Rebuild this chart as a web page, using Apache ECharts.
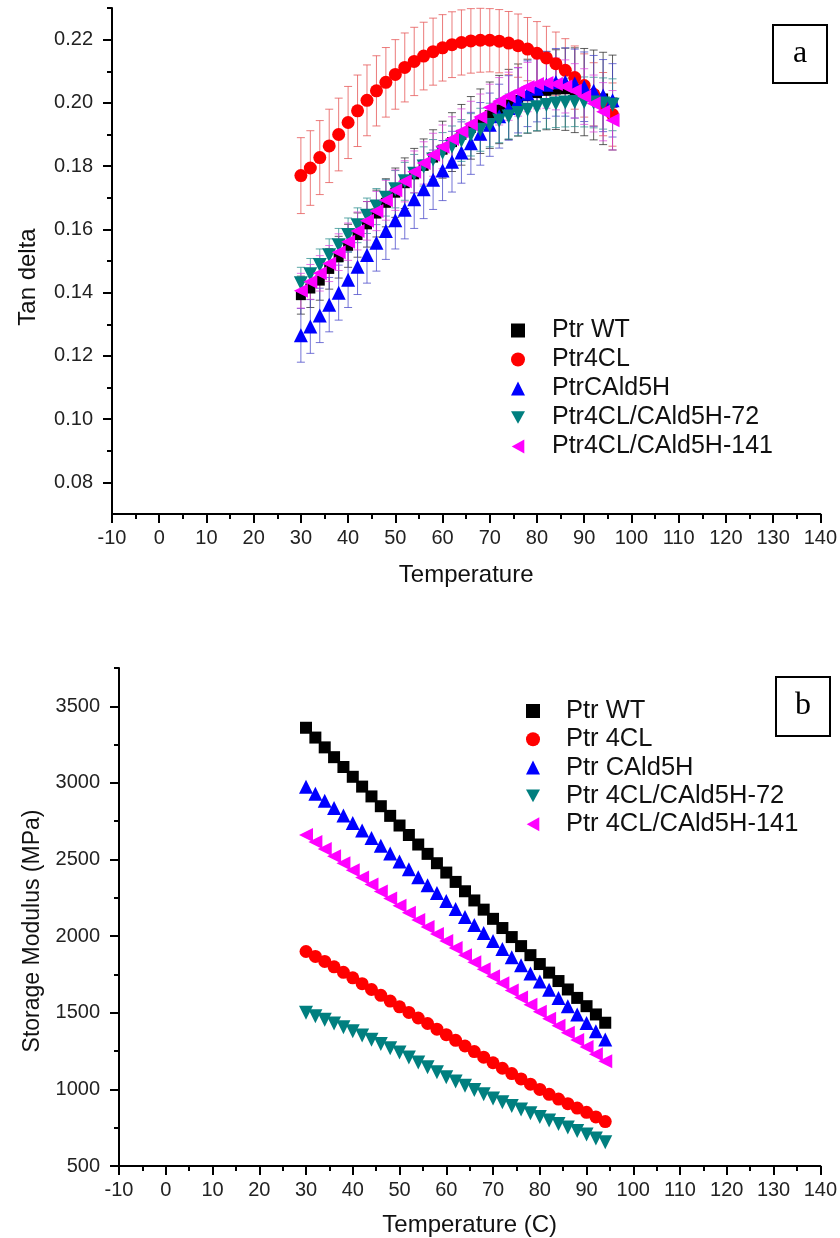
<!DOCTYPE html>
<html>
<head>
<meta charset="utf-8">
<script src="https://cdn.jsdelivr.net/npm/echarts@6/dist/echarts.min.js"></script>
<style>html,body{margin:0;padding:0;background:#fff}#c{width:840px;height:1238px}</style>
</head>
<body>
<div id="c"></div>
<script>
// ---------- Panel a: Tan delta ----------
const tempA = [30,32,34,36,38,40,42,44,46,48,50,52,54,56,58,60,62,64,66,68,70,72,74,76,78,80,82,84,86,88,90,92,94,96];
const tanWT   = [0.1392,0.1413,0.1438,0.1475,0.1512,0.1548,0.1582,0.1616,0.1650,0.1684,0.1716,0.1746,0.1774,0.1801,0.1827,0.1852,0.1876,0.1899,0.1921,0.1942,0.1961,0.1979,0.1995,0.2009,0.2021,0.2031,0.2038,0.2042,0.2043,0.2040,0.2034,0.2025,0.2014,0.2001];
const tan4CL  = [0.1770,0.1794,0.1827,0.1864,0.1900,0.1938,0.1975,0.2008,0.2038,0.2065,0.2090,0.2112,0.2131,0.2148,0.2162,0.2174,0.2184,0.2191,0.2196,0.2198,0.2198,0.2195,0.2189,0.2181,0.2170,0.2157,0.2142,0.2124,0.2103,0.2080,0.2055,0.2027,0.1996,0.1963];
const tanC5H  = [0.1265,0.1293,0.1328,0.1362,0.1400,0.1441,0.1482,0.1519,0.1558,0.1595,0.1629,0.1662,0.1695,0.1727,0.1757,0.1786,0.1814,0.1843,0.1872,0.1902,0.1931,0.1958,0.1984,0.2008,0.2029,0.2045,0.2057,0.2065,0.2066,0.2061,0.2051,0.2038,0.2023,0.2008];
const tan72   = [0.1430,0.1458,0.1487,0.1518,0.1550,0.1582,0.1613,0.1643,0.1672,0.1700,0.1727,0.1752,0.1776,0.1799,0.1821,0.1842,0.1862,0.1881,0.1899,0.1915,0.1930,0.1944,0.1957,0.1968,0.1978,0.1986,0.1993,0.1998,0.2001,0.2003,0.2003,0.2001,0.1998,0.1994];
const tan141  = [0.1406,0.1434,0.1461,0.1492,0.1528,0.1561,0.1595,0.1627,0.1658,0.1692,0.1724,0.1752,0.1782,0.1810,0.1836,0.1861,0.1886,0.1910,0.1933,0.1955,0.1985,0.2005,0.2021,0.2035,0.2050,0.2060,0.2063,0.2060,0.2052,0.2038,0.2020,0.1998,0.1972,0.1945];
// error (± half-width) for each point
const errWT   = [0.0060,0.0060,0.0062,0.0064,0.0066,0.0068,0.0070,0.0072,0.0074,0.0076,0.0078,0.0080,0.0082,0.0085,0.0088,0.0090,0.0093,0.0096,0.0099,0.0102,0.0105,0.0108,0.0111,0.0114,0.0117,0.0120,0.0123,0.0126,0.0130,0.0134,0.0138,0.0142,0.0146,0.0150];
const err4CL  = [0.0120,0.0118,0.0117,0.0116,0.0115,0.0114,0.0113,0.0112,0.0111,0.0110,0.0110,0.0109,0.0108,0.0107,0.0106,0.0105,0.0104,0.0103,0.0102,0.0101,0.0100,0.0100,0.0100,0.0100,0.0100,0.0100,0.0100,0.0100,0.0100,0.0100,0.0100,0.0100,0.0100,0.0100];
const errC5H  = [0.0085,0.0085,0.0086,0.0086,0.0087,0.0088,0.0088,0.0089,0.0090,0.0090,0.0091,0.0092,0.0092,0.0093,0.0094,0.0095,0.0096,0.0097,0.0098,0.0099,0.0100,0.0101,0.0102,0.0103,0.0104,0.0105,0.0106,0.0107,0.0108,0.0109,0.0110,0.0112,0.0114,0.0116];
const err72   = [0.0050,0.0050,0.0051,0.0052,0.0053,0.0054,0.0055,0.0056,0.0057,0.0058,0.0059,0.0060,0.0061,0.0062,0.0063,0.0064,0.0065,0.0066,0.0067,0.0068,0.0069,0.0070,0.0071,0.0072,0.0073,0.0074,0.0075,0.0076,0.0077,0.0078,0.0079,0.0080,0.0081,0.0082];
const err141  = [0.0055,0.0055,0.0056,0.0057,0.0058,0.0059,0.0060,0.0061,0.0062,0.0063,0.0064,0.0065,0.0066,0.0067,0.0068,0.0069,0.0070,0.0071,0.0072,0.0073,0.0074,0.0075,0.0076,0.0077,0.0078,0.0079,0.0080,0.0082,0.0084,0.0086,0.0088,0.0090,0.0092,0.0094];
const namesA = ['Ptr WT','Ptr4CL','PtrCAld5H','Ptr4CL/CAld5H-72','Ptr4CL/CAld5H-141'];
const yTicksA = [0.08,0.10,0.12,0.14,0.16,0.18,0.20,0.22];
const yMinorA = [0.09,0.11,0.13,0.15,0.17,0.19,0.21,0.23];

// ---------- Panel b: Storage modulus ----------
const tempB = [30,32,34,36,38,40,42,44,46,48,50,52,54,56,58,60,62,64,66,68,70,72,74,76,78,80,82,84,86,88,90,92,94];
const smWT  = [3360,3296,3232,3168,3104,3040,2976,2912,2848,2785,2722,2660,2598,2537,2476,2415,2354,2293,2233,2173,2113,2053,1994,1935,1876,1818,1762,1707,1652,1597,1543,1489,1435];
const sm4CL = [1900,1868,1835,1800,1764,1728,1690,1652,1614,1576,1539,1502,1466,1430,1393,1357,1320,1283,1247,1210,1174,1138,1103,1068,1034,1000,968,937,907,878,850,820,790];
const smC5H = [2975,2930,2883,2836,2788,2739,2690,2640,2590,2539,2488,2437,2385,2333,2281,2229,2177,2125,2073,2021,1969,1916,1863,1810,1757,1704,1650,1596,1542,1488,1434,1380,1325];
const sm72  = [1500,1478,1455,1430,1405,1380,1352,1324,1296,1268,1240,1208,1176,1144,1112,1080,1052,1024,996,968,940,916,892,868,844,820,797,774,751,728,705,680,655];
const sm141 = [2660,2614,2568,2522,2476,2430,2383,2337,2291,2245,2199,2153,2106,2060,2014,1968,1922,1876,1830,1784,1738,1692,1646,1600,1553,1507,1461,1415,1369,1323,1277,1230,1183];
const namesB = ['Ptr WT','Ptr 4CL','Ptr CAld5H','Ptr 4CL/CAld5H-72','Ptr 4CL/CAld5H-141'];
const yTicksB = [500,1000,1500,2000,2500,3000,3500];
const yMinorB = [750,1250,1750,2250,2750,3250,3750];

const FONT = '"Liberation Sans", Arial, sans-serif';
const colors = ['#000000','#ff0000','#0000ff','#007f7f','#ff00ff'];
const errColors = ['rgba(40,40,40,0.75)','rgba(230,90,90,0.8)','rgba(70,70,200,0.75)','rgba(40,140,140,0.75)','rgba(220,60,220,0.7)'];
const DOWN = 'path://M0,0 L10,0 L5,9 Z';
const LEFT = 'path://M9,0 L9,10 L0,5 Z';
const symbols = ['rect','circle','triangle',DOWN,LEFT];
const sizesA = [10,13,14,14,14];
const sizesB = [12,13,14,14,14];

const tanSets = [tanWT,tan4CL,tanC5H,tan72,tan141];
const errSets = [errWT,err4CL,errC5H,err72,err141];
const smSets = [smWT,sm4CL,smC5H,sm72,sm141];

function axisStyle(){ return {onZero:false, lineStyle:{color:'#000',width:2}}; }

const series = [];
// error bars (behind)
tanSets.forEach((vals,k)=>{
  series.push({
    type:'custom', name:'err'+k, xAxisIndex:0, yAxisIndex:0, silent:true, z:1,
    data: tempA.map((t,i)=>[t, vals[i]-errSets[k][i], vals[i]+errSets[k][i]]),
    encode:{x:0,y:[1,2]},
    renderItem:function(params, api){
      const x = api.value(0);
      const lo = api.coord([x, api.value(1)]);
      const hi = api.coord([x, api.value(2)]);
      const w = 4;
      const st = {stroke:errColors[k], lineWidth:1};
      return {type:'group', children:[
        {type:'line', shape:{x1:lo[0],y1:lo[1],x2:hi[0],y2:hi[1]}, style:st},
        {type:'line', shape:{x1:lo[0]-w,y1:lo[1],x2:lo[0]+w,y2:lo[1]}, style:st},
        {type:'line', shape:{x1:hi[0]-w,y1:hi[1],x2:hi[0]+w,y2:hi[1]}, style:st}
      ]};
    }
  });
});
tanSets.forEach((vals,k)=>{
  series.push({
    type:'scatter', name:namesA[k], xAxisIndex:0, yAxisIndex:0, z:3,
    symbol:symbols[k], symbolSize:sizesA[k],
    itemStyle:{color:colors[k], opacity:1},
    data: tempA.map((t,i)=>[t, vals[i]])
  });
});
smSets.forEach((vals,k)=>{
  series.push({
    type:'scatter', name:namesB[k], xAxisIndex:1, yAxisIndex:2, z:3,
    symbol:symbols[k], symbolSize:sizesB[k],
    itemStyle:{color:colors[k], opacity:1},
    data: tempB.map((t,i)=>[t, vals[i]])
  });
});

const xCommon = {
  type:'value', min:-10, max:140, interval:10,
  axisLine:axisStyle(),
  axisTick:{show:true, length:9, lineStyle:{color:'#000',width:2}},
  minorTick:{show:true, splitNumber:2, length:5, lineStyle:{color:'#000',width:2}},
  splitLine:{show:false}, minorSplitLine:{show:false},
  axisLabel:{color:'#222', fontFamily:FONT, fontSize:20, margin:14},
  nameLocation:'middle',
  nameTextStyle:{color:'#111', fontFamily:FONT, fontSize:24}
};

const option = {
  animation:false,
  backgroundColor:'#fff',
  grid:[
    {left:112, top:8, width:711, height:506},
    {left:119, top:668, width:705, height:498}
  ],
  xAxis:[
    Object.assign({}, xCommon, {gridIndex:0, name:'Temperature', nameGap:49}),
    Object.assign({}, xCommon, {gridIndex:1, name:'Temperature (C)', nameGap:47})
  ],
  yAxis:[
    {type:'value', gridIndex:0, min:0.07, max:0.23, position:'left',
     axisLine:axisStyle(),
     axisTick:{show:true, length:9, lineStyle:{color:'#000',width:2}, customValues:yTicksA},
     axisLabel:{color:'#222', fontFamily:FONT, fontSize:20, margin:19, customValues:yTicksA,
                formatter:v=>Number(v).toFixed(2)},
     splitLine:{show:false},
     name:'Tan delta', nameLocation:'middle', nameGap:72,
     nameTextStyle:{color:'#111', fontFamily:FONT, fontSize:24, padding:[0,32,0,0]}},
    {type:'value', gridIndex:0, min:0.07, max:0.23, position:'left', offset:0,
     axisLine:{show:false, onZero:false}, axisLabel:{show:false}, splitLine:{show:false},
     axisTick:{show:true, length:5, lineStyle:{color:'#000',width:2}, customValues:yMinorA}},
    {type:'value', gridIndex:1, min:500, max:3750, position:'left',
     axisLine:axisStyle(),
     axisTick:{show:true, length:9, lineStyle:{color:'#000',width:2}, customValues:yTicksB},
     axisLabel:{color:'#222', fontFamily:FONT, fontSize:20, margin:19, customValues:yTicksB,
                formatter:v=>String(Math.round(v))},
     splitLine:{show:false},
     name:'Storage Modulus (MPa)', nameLocation:'middle', nameGap:72,
     nameTextStyle:{color:'#111', fontFamily:FONT, fontSize:23, padding:[0,28,0,0]}},
    {type:'value', gridIndex:1, min:500, max:3750, position:'left', offset:0,
     axisLine:{show:false, onZero:false}, axisLabel:{show:false}, splitLine:{show:false},
     axisTick:{show:true, length:5, lineStyle:{color:'#000',width:2}, customValues:yMinorB}}
  ],
  legend:[
    {data:namesA, orient:'vertical', left:506, top:313, itemWidth:14, itemHeight:14, itemGap:4,
     textStyle:{color:'#111', fontFamily:FONT, fontSize:25, lineHeight:22, padding:[0,0,0,22]},
     selectedMode:false},
    {data:namesB, orient:'vertical', left:521, top:693, itemWidth:14, itemHeight:14, itemGap:2.3,
     textStyle:{color:'#111', fontFamily:FONT, fontSize:25.5, lineHeight:22, padding:[0,0,0,21]},
     selectedMode:false}
  ],
  graphic:[
    {type:'rect', shape:{x:773, y:25, width:54, height:58}, style:{fill:'#fff', stroke:'#000', lineWidth:2}, z:10},
    {type:'text', x:800, y:54, style:{text:'a', font:'32px "Liberation Serif", "Times New Roman", serif', fill:'#000', align:'center', verticalAlign:'middle'}, z:11},
    {type:'rect', shape:{x:776, y:677, width:54, height:59}, style:{fill:'#fff', stroke:'#000', lineWidth:2}, z:10},
    {type:'text', x:803, y:706, style:{text:'b', font:'32px "Liberation Serif", "Times New Roman", serif', fill:'#000', align:'center', verticalAlign:'middle'}, z:11}
  ],
  series:series
};

const chart = echarts.init(document.getElementById('c'), null, {renderer:'canvas'});
chart.setOption(option);
</script>
</body>
</html>
